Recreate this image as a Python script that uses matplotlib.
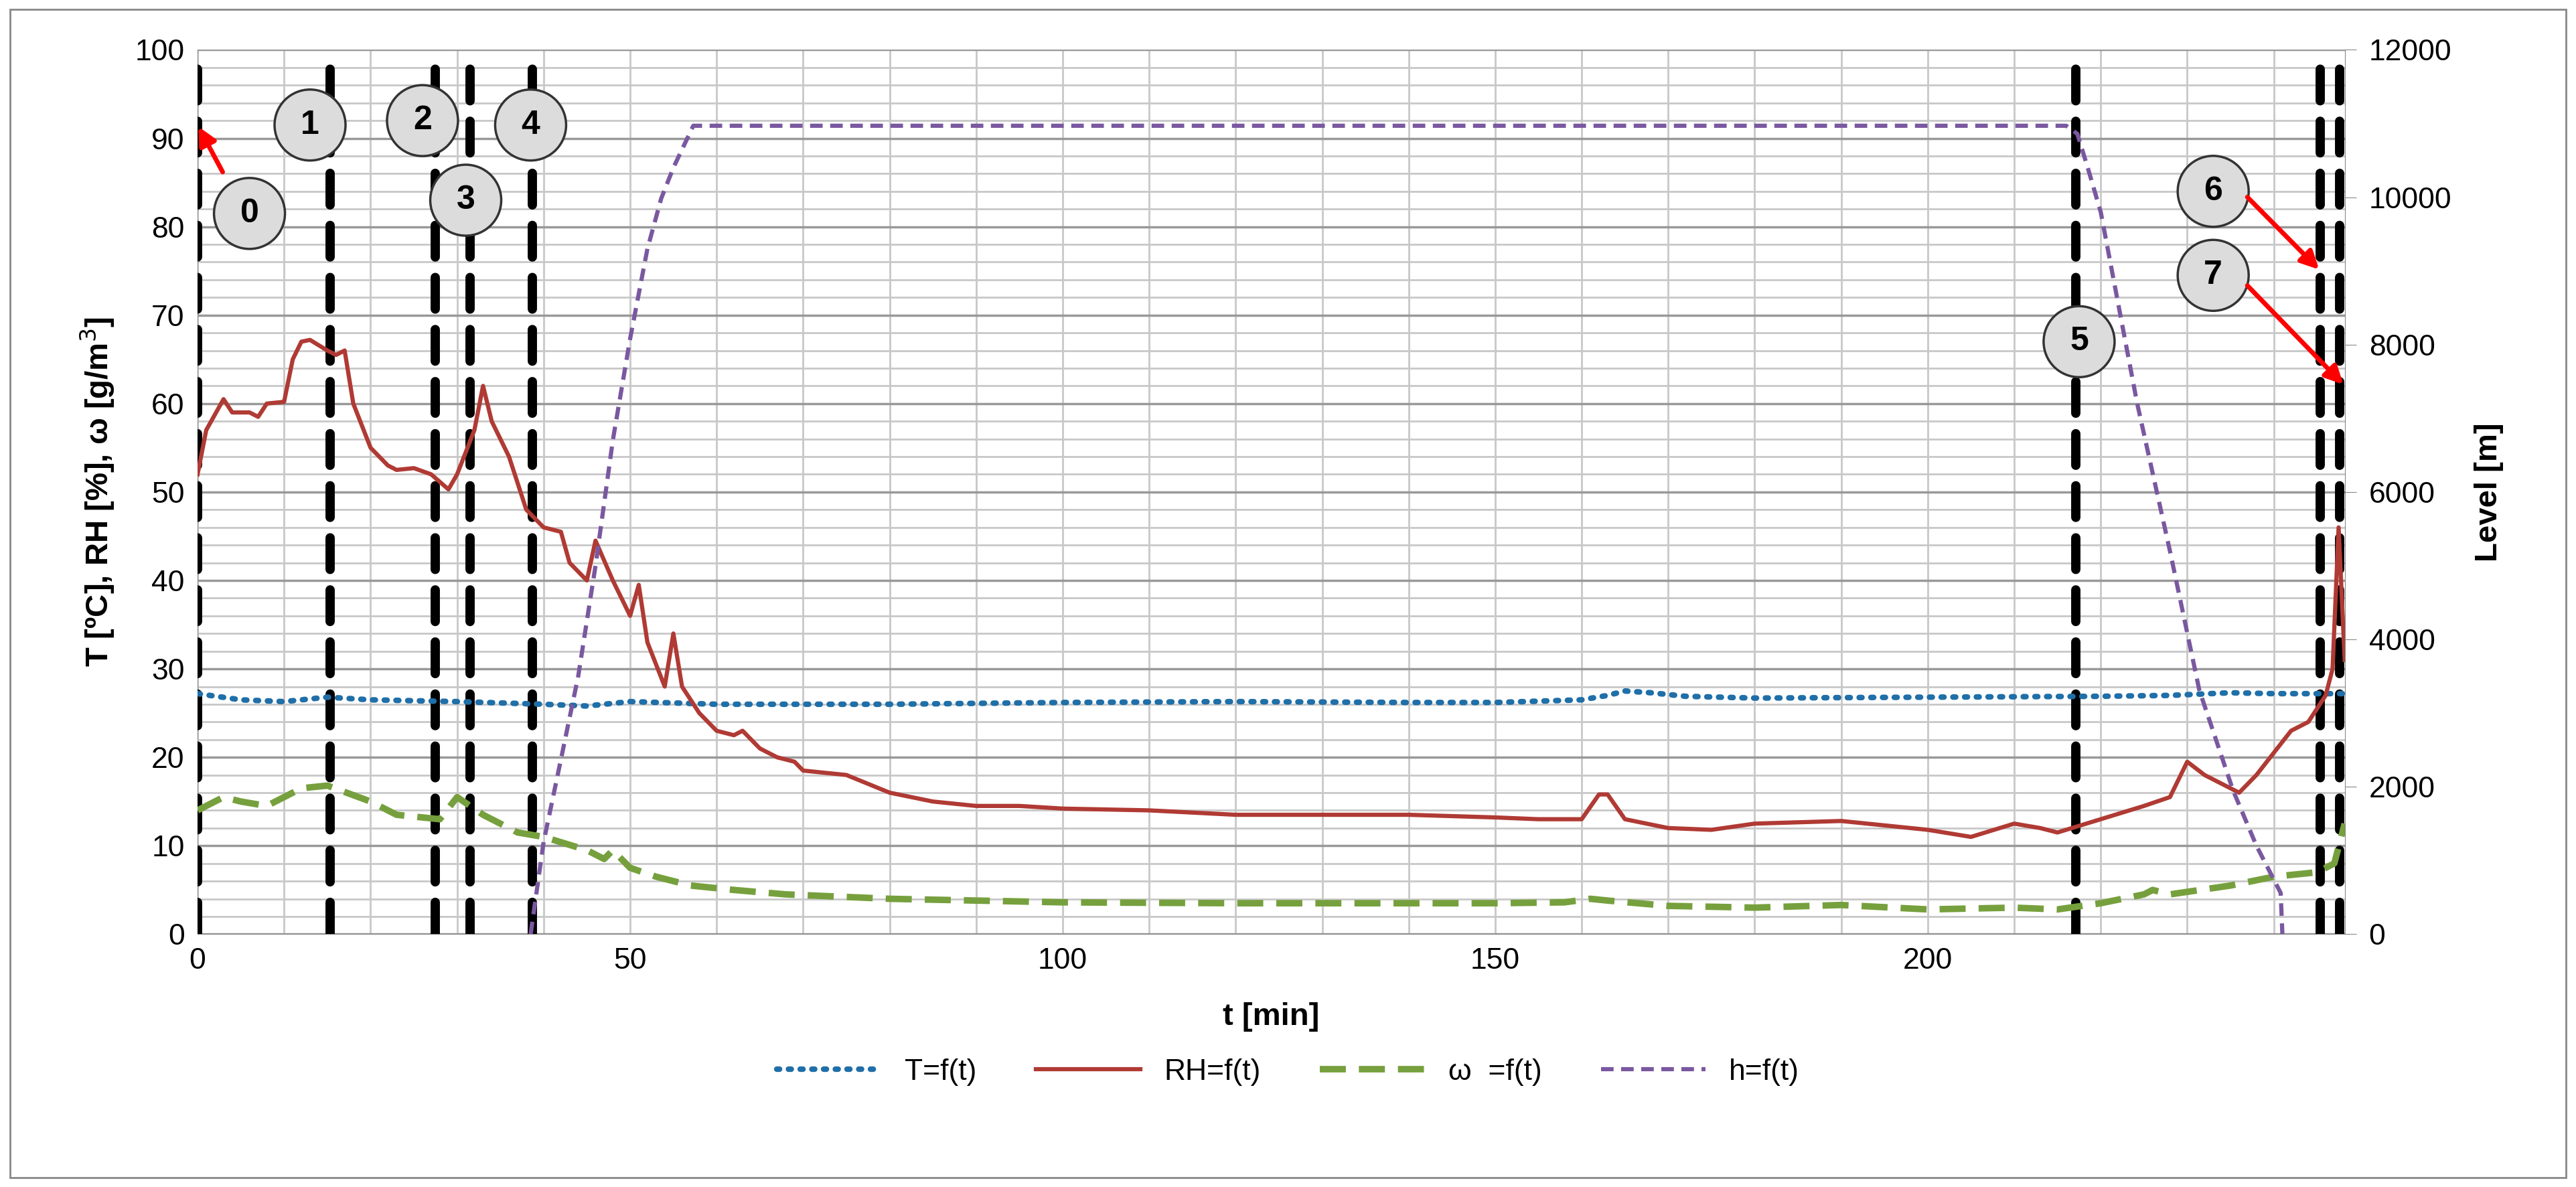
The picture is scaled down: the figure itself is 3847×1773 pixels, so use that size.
import matplotlib
matplotlib.use("Agg")
import matplotlib.pyplot as plt
from matplotlib.ticker import MultipleLocator
from matplotlib.patches import Rectangle

plt.rcParams['font.family'] = ['Liberation Sans', 'DejaVu Sans']

t_T = [0, 5, 10, 15, 20, 30, 40, 45, 50, 60, 80, 100, 120, 140, 150, 160, 163, 165, 168, 172, 180, 200, 220, 228, 235, 240, 248.2]
T = [27.2, 26.5, 26.3, 26.8, 26.5, 26.3, 26.0, 25.8, 26.3, 26.0, 26.0, 26.2, 26.3, 26.2, 26.2, 26.5, 27.0, 27.5, 27.3, 26.9, 26.7, 26.8, 26.9, 27.0, 27.3, 27.2, 27.2]

t_RH = [0, 1, 3, 4, 6, 7, 8, 10, 11, 12, 13, 15, 16, 17, 18, 20, 22, 23, 25, 27, 29, 30, 32, 33, 34, 36, 38, 40, 42, 43, 45, 46, 48, 50, 51, 52, 54, 55, 56, 58, 60, 62, 63, 65, 67, 69, 70, 75, 80, 85, 90, 95, 100, 110, 120, 130, 140, 150, 155, 160, 162, 163, 165, 170, 175, 180, 190, 200, 205, 210, 213, 215, 220, 225, 228, 230, 232, 234, 236, 238, 240, 242, 244, 246, 246.8, 247.5, 248.2]
RH = [52, 57, 60.5, 59, 59, 58.5, 60, 60.2, 65, 67, 67.2, 66, 65.5, 66, 60, 55, 53, 52.5, 52.7, 52, 50.3, 52, 57, 62, 58, 54, 48, 46, 45.5, 42, 40, 44.5, 40, 36, 39.5, 33, 28, 34, 28, 25, 23, 22.5, 23, 21, 20, 19.5, 18.5, 18, 16, 15, 14.5, 14.5, 14.2, 14, 13.5, 13.5, 13.5, 13.2, 13, 13, 15.8, 15.8, 13, 12, 11.8, 12.5, 12.8, 11.8, 11, 12.5, 12, 11.5, 13, 14.5, 15.5, 19.5, 18, 17, 16, 18, 20.5, 23, 24, 27, 30, 46, 31]

t_w = [0, 3, 5, 8, 12, 15, 20, 23, 28, 30, 33, 37, 40, 45, 47, 48, 50, 53, 57, 62, 68, 80, 90, 100, 120, 150, 158, 161, 163, 170, 180, 190, 200, 210, 215, 220, 225, 226, 228, 235, 240, 245, 247, 248.2]
w = [14, 15.5, 15, 14.5, 16.5, 16.8, 15, 13.5, 13, 15.5, 13.5, 11.5, 11, 9.5, 8.5, 9.5, 7.5, 6.5, 5.5, 5, 4.5, 4, 3.8, 3.6, 3.5, 3.5, 3.6, 4, 3.8, 3.2, 3, 3.3, 2.8, 3, 2.8, 3.5, 4.5, 5, 4.5, 5.5, 6.5, 7, 8, 12.5]

t_h = [38.5, 40, 42, 44, 46, 48, 50, 52, 53.6, 55, 57.3, 100, 150, 216, 217.3, 218.5, 220, 224.2, 228, 231.4, 235.3, 238, 240.8, 241]
h = [0, 1250, 2370, 3500, 5000, 6700, 8080, 9300, 9985, 10400, 10970, 10970, 10970, 10970, 10860, 10400, 9800, 7210, 5200, 3310, 1950, 1200, 560, 0]

events = [0, 15.3, 27.5, 31.5, 38.7, 217.1, 245.4, 247.6]
labels = ['0', '1', '2', '3', '4', '5', '6', '7']
label_pos = [(6, 81.5), (13, 91.5), (26, 92), (31, 83), (38.5, 91.5), (217.5, 67), (233, 84), (233, 74.5)]

fig = plt.figure(figsize=(38.47, 17.73), dpi=100)
fig.patches.append(Rectangle((0.004, 0.008), 0.992, 0.984, transform=fig.transFigure,
                             fill=False, edgecolor='#888888', linewidth=2))
ax = fig.add_axes([0.0767, 0.213, 0.8335, 0.745])
ax.set_xlim(0, 248.2)
ax.set_ylim(0, 100)
ax.xaxis.set_major_locator(MultipleLocator(50))
ax.xaxis.set_minor_locator(MultipleLocator(10))
ax.yaxis.set_major_locator(MultipleLocator(10))
ax.yaxis.set_minor_locator(MultipleLocator(2))
ax.grid(which='major', axis='y', color='#999999', linewidth=2.5)
ax.grid(which='minor', axis='y', color='#c8c8c8', linewidth=2)
ax.grid(which='both', axis='x', color='#c8c8c8', linewidth=2)
ax.set_axisbelow(True)
for s in ['top', 'right']:
    ax.spines[s].set_visible(False)
ax.spines['left'].set_color('#888888')
ax.spines['bottom'].set_color('#888888')
ax.tick_params(which='both', length=0, labelsize=32, pad=14)

ax2 = ax.twinx()
ax2.set_ylim(0, 12000)
ax2.yaxis.set_major_locator(MultipleLocator(2000))
ax2.tick_params(length=12, color='#888888', labelsize=32, pad=14)
for s in ['top', 'left', 'bottom']:
    ax2.spines[s].set_visible(False)
ax2.spines['right'].set_color('#888888')

for e in events:
    ax.axvline(e, color='black', linewidth=10, dashes=(3.4, 2.2), zorder=3,
               solid_capstyle='round', dash_capstyle='round')

lT, = ax.plot(t_T, T, color='#1f6fa8', linewidth=6, linestyle=(0, (0.5, 1.6)),
              dash_capstyle='round', label='T=f(t)', zorder=4)
lRH, = ax.plot(t_RH, RH, color='#b03a34', linewidth=4.5, label='RH=f(t)', zorder=4)
lw, = ax.plot(t_w, w, color='#76a03d', linewidth=7, dashes=(4, 2), label='ω  =f(t)', zorder=4)
lh, = ax2.plot(t_h, h, color='#7a58a0', linewidth=4.5, dashes=(3, 1.8), label='h=f(t)', zorder=4)

for lab, (x, y) in zip(labels, label_pos):
    ax.text(x, y, lab, fontsize=36, fontweight='bold', ha='center', va='center', zorder=6,
            bbox=dict(boxstyle='circle,pad=0.6', facecolor='#dcdcdc', edgecolor='#333333', linewidth=2.5))

arrow = dict(arrowstyle='-|>', color='red', lw=5, mutation_scale=40)
ax.annotate('', xy=(0, 91.5), xytext=(3, 86), arrowprops=arrow, zorder=7)
ax.annotate('', xy=(245.4, 75), xytext=(236.8, 83.5), arrowprops=arrow, zorder=7)
ax.annotate('', xy=(248.2, 62), xytext=(236.8, 73.5), arrowprops=arrow, zorder=7)

ax.set_xlabel('t [min]', fontsize=34, fontweight='bold', labelpad=30)
ax.set_ylabel('T [ºC], RH [%], ω [g/m$^3$]', fontsize=34, fontweight='bold', labelpad=20)
ax2.set_ylabel('Level [m]', fontsize=34, fontweight='bold', labelpad=24)

fig.legend(handles=[lT, lRH, lw, lh], loc='center', bbox_to_anchor=(0.5, 0.097), ncol=4,
           frameon=False, fontsize=32, handlelength=3.5, columnspacing=2)

fig.savefig('out.png', dpi=100)
